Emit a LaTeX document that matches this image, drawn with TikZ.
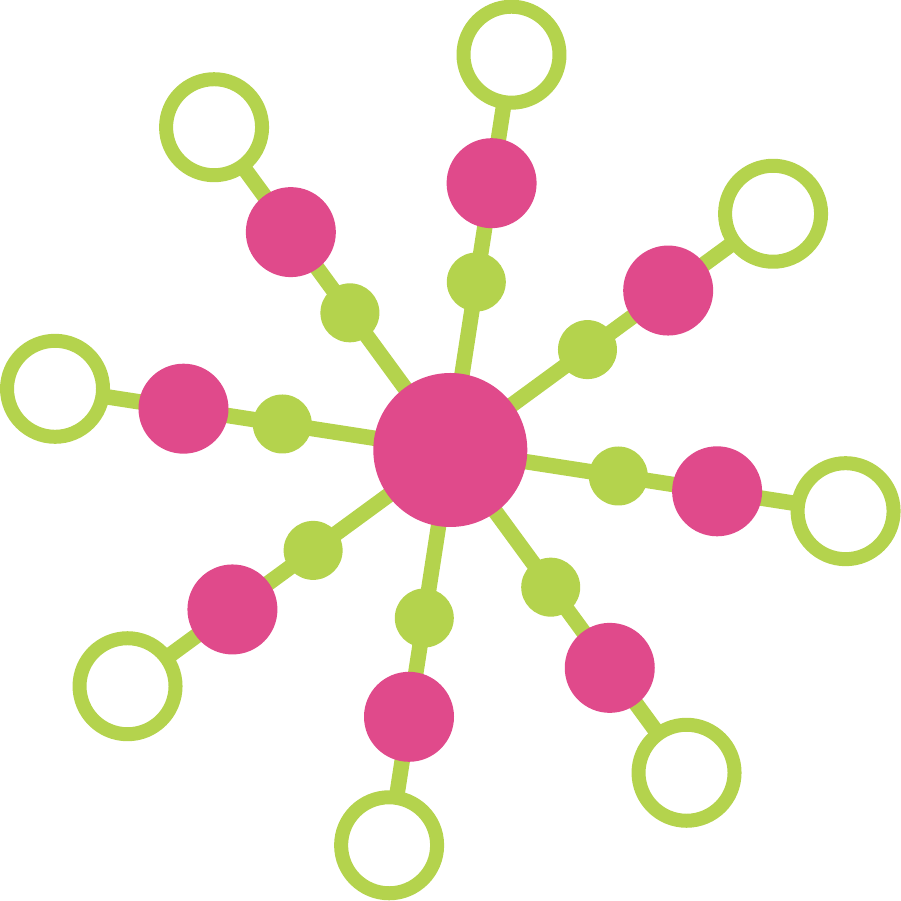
\documentclass[tikz,border=0pt]{standalone}
\usepackage{tikz}
\usetikzlibrary{calc}
\usetikzlibrary{backgrounds}
\definecolor{spokegreen}{RGB}{180,211,77}
\definecolor{hubpink}{RGB}{224,74,139}

\begin{document}
\begin{tikzpicture}[
		line join=round,
		hub/.style={circle, fill=hubpink, inner sep=0pt, outer sep=0pt, minimum size=1.54cm},
		bead/.style={circle, fill=spokegreen, inner sep=0pt, outer sep=0pt, minimum size=0.59cm},
		ball/.style={circle, fill=hubpink, inner sep=0pt, outer sep=0pt, minimum size=0.90cm},
		ring/.style={circle, draw=spokegreen, line width=0.14cm, inner sep=0pt, minimum size=0.96cm},
		spoke/.style={draw=spokegreen, line width=0.155cm, shorten >=0.46cm}
	]
	% Parameters
	\def\A{81.2}

	% Canvas
	\useasboundingbox (0,0) rectangle (9.01,9.01);

	% Hub
	\node[hub] (H) at (4.503,4.51) {};

	% Spokes: bead, ball and ring on each ray
	\foreach \k in {0,...,7}{
			\pgfmathsetmacro{\ang}{\A-45*\k}
			\node[bead] (S\k) at ($(H)+(\ang:1.70)$) {};
			\node[ball] (P\k) at ($(H)+(\ang:2.70)$) {};
			\node[ring] (R\k) at ($(H)+(\ang:4.00)$) {};
			\begin{pgfonlayer}{background}
				\draw[spoke] (H.center) -- (R\k.center);
			\end{pgfonlayer}
		}
\end{tikzpicture}
\end{document}
